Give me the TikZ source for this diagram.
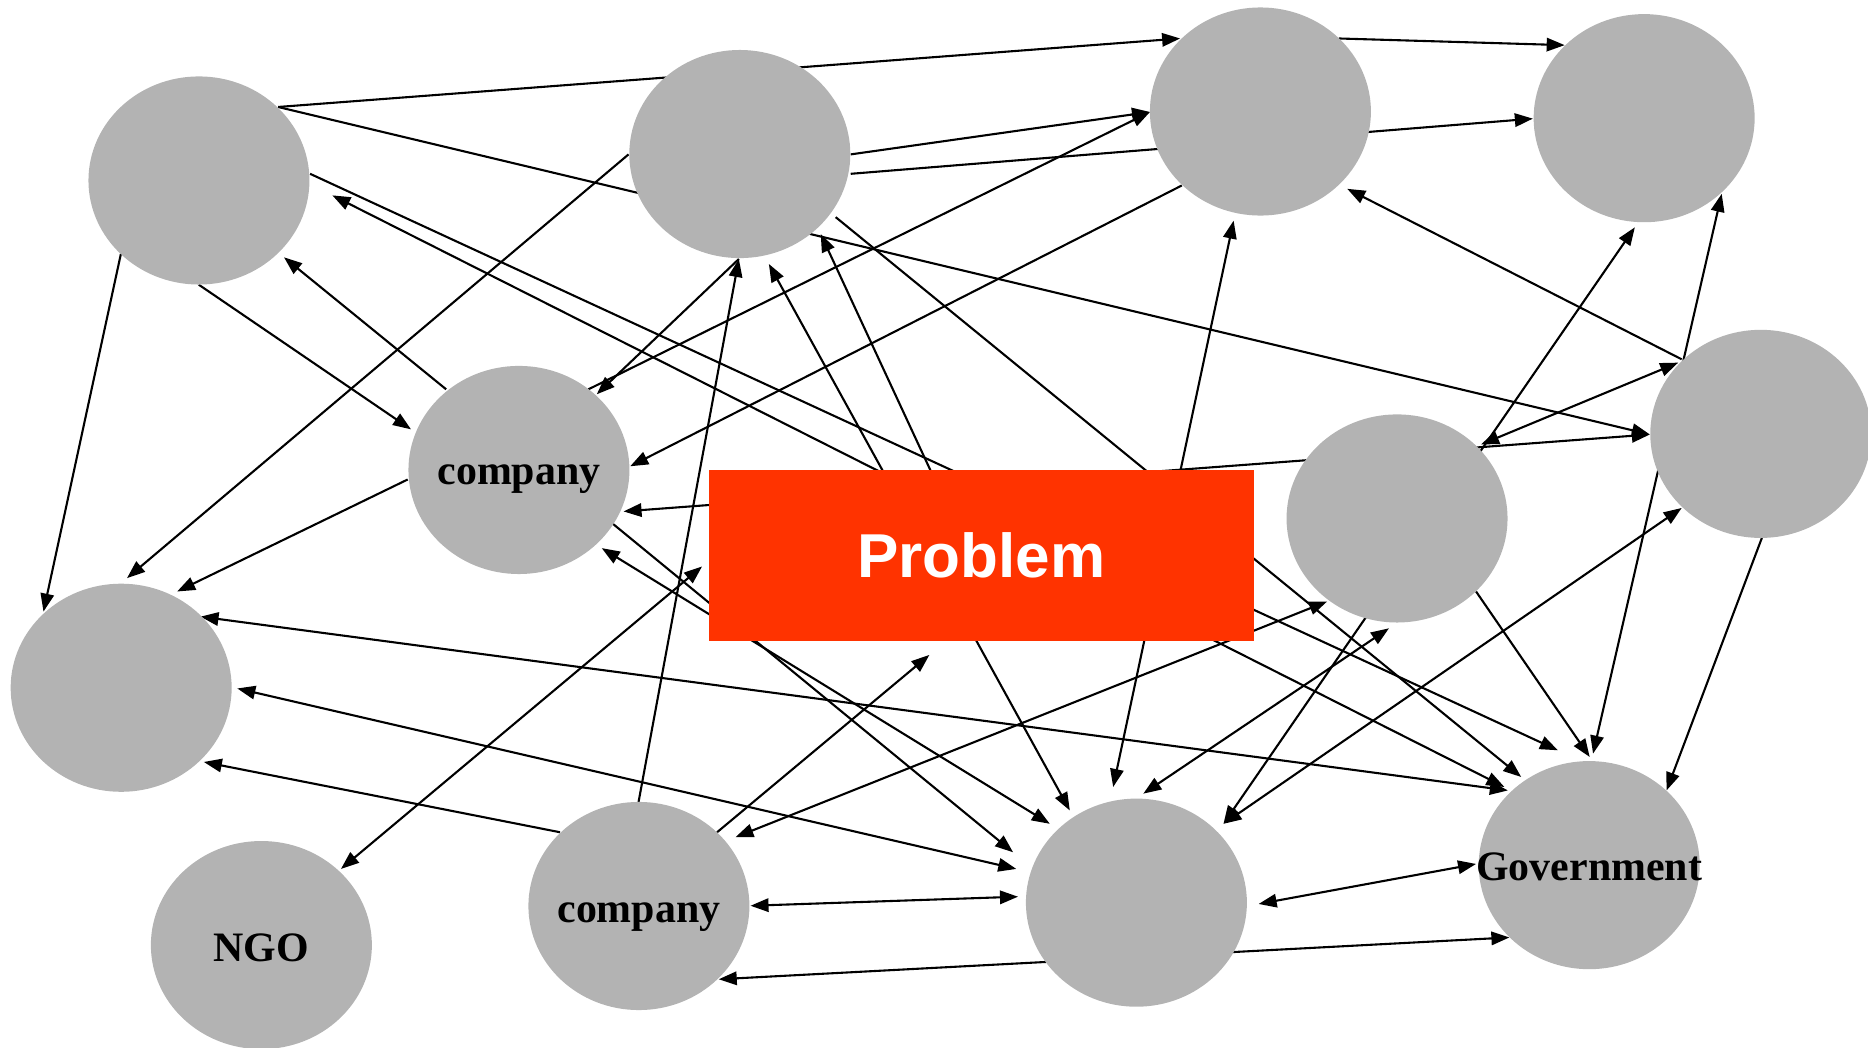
\documentclass[tikz,border=0pt]{standalone}
\usepackage{fontspec}
\setmainfont{Liberation Serif}
\newfontfamily\probfont{Liberation Sans}
\usetikzlibrary{shapes.geometric,arrows.meta,calc}
\definecolor{nodegrey}{RGB}{179,179,179}
\definecolor{probred}{RGB}{255,51,0}
\pgfdeclarelayer{links}
\pgfsetlayers{links,main}

\begin{document}
\begin{tikzpicture}[x=0.01cm,y=-0.01cm,
  actor/.style={ellipse,fill=nodegrey,minimum width=1.854cm,minimum height=1.746cm,inner sep=0pt},
  lbl/.style={anchor=base,inner sep=0pt,font=\fontsize{10pt}{12pt}\selectfont\bfseries},
  link/.style={line width=0.5pt,-{Triangle[length=4.3pt,width=3.2pt]}},
  both/.style={line width=0.5pt,{Triangle[length=4.3pt,width=3.2pt]}-{Triangle[length=4.3pt,width=3.2pt]}}]
\useasboundingbox (0,0) rectangle (1568,879);

% actors
\node[actor] (A) at (167,151.5) {};
\node[actor] (B) at (621,129.3) {};
\node[actor] (C) at (1058,93.6) {};
\node[actor] (D) at (1380.1,99.2) {};
\node[actor] (E) at (1478,364.2) {};
\node[actor] (F) at (1172.7,435.2) {};
\node[actor] (G) at (435.6,394.5) {};
\node[actor] (H) at (101.7,577.3) {};
\node[actor] (I) at (219.4,793.3) {};
\node[actor] (J) at (536.3,760.5) {};
\node[actor] (K) at (953.9,757.7) {};
\node[actor] (L) at (1334,726.2) {};

% labels
\node[lbl] (Gtxt) at ($(G)+(0,11.8)$) {company};
\node[lbl] (Jtxt) at ($(J)+(0,13.8)$) {company};
\node[lbl] (Itxt) at ($(I)+(0,13.8)$) {NGO};
\node[lbl] (Ltxt) at ($(L)+(0,12.5)$) {Government};

% central problem
\node[rectangle,fill=probred,minimum width=4.574cm,minimum height=1.435cm,inner sep=0pt,
      text=white,font=\probfont\bfseries\fontsize{14.8pt}{17pt}\selectfont] (P) at (823.6,466) {Problem};

\begin{pgfonlayer}{links}
\draw[link] ($(A)+(66.4,-61.7)$) -- ($(C)+(-67.4,-61.3)$);
\draw[link] ($(A)+(66.4,-61.7)$) -- ($(E)+(-93.1,0.5)$);
\draw[link] ($(A)+(93.3,-5.6)$) -- ($(L)+(-26.3,-96.4)$);
\draw[both] ($(A)+(112,12.5)$) -- ($(L)+(-71.2,-65.6)$);
\draw[link] ($(A)+(-0.1,87.5)$) -- ($(G)+(-90.6,-34.1)$);
\draw[link] ($(G)+(-61.1,-67.7)$) -- ($(A)+(71.4,64.5)$);
\draw[link] ($(A)+(-65.5,61.5)$) -- ($(H)+(-65.2,-63.9)$);
\draw[link] ($(B)+(-93.4,0.3)$) -- ($(H)+(4.9,-92)$);
\draw[link] ($(G)+(-93.4,8)$) -- ($(H)+(47,-80.8)$);
\draw[both] ($(H)+(66.6,-59.7)$) -- ($(L)+(-68.3,-62.7)$);
\draw[both] ($(H)+(97.5,0.6)$) -- ($(K)+(-100.8,-28.3)$);
\draw[link] ($(J)+(-66.2,-61.9)$) -- ($(H)+(69.4,62.3)$);
\draw[both] ($(P)+(-234.3,9.5)$) -- ($(I)+(66.8,-63.9)$);
\draw[link] ($(J)+(-0.3,-87.3)$) -- ($(B)+(-0.8,88.1)$);
\draw[both] ($(G)+(69.5,65.6)$) -- ($(K)+(-72.7,-66.2)$);
\draw[link] ($(G)+(78,44.5)$) -- ($(K)+(-103.5,-42.3)$);
\draw[link] ($(J)+(65.6,-61.9)$) -- ($(P)+(-43.5,83.8)$);
\draw[both] ($(J)+(81,-57.7)$) -- ($(F)+(-58.7,69.7)$);
\draw[both] ($(J)+(93.7,-0.2)$) -- ($(K)+(-99.4,-5)$);
\draw[both] ($(J)+(67,61.5)$) -- ($(L)+(-67,60.7)$);
\draw[both] ($(B)+(24.4,92.3)$) -- ($(K)+(-55.9,-77.4)$);
\draw[link] ($(P)+(-42.2,-70.4)$) -- ($(B)+(67.9,67.1)$);
\draw[both] ($(K)+(-19.5,-97.1)$) -- ($(C)+(-22.5,91.6)$);
\draw[both] ($(D)+(-7.8,91.6)$) -- ($(K)+(73.1,-66.2)$);
\draw[both] ($(K)+(5.8,-91.5)$) -- ($(F)+(-6.8,92.2)$);
\draw[both] ($(E)+(-66.4,62.2)$) -- ($(K)+(73.1,-66.2)$);
\draw[link] ($(B)+(80.5,53)$) -- ($(L)+(-57.1,-74)$);
\draw[link] ($(F)+(66.3,61.3)$) -- ($(L)+(0.4,-90.8)$);
\draw[both] ($(D)+(65.1,63.5)$) -- ($(L)+(3.2,-93.6)$);
\draw[link] ($(E)+(0.9,87.4)$) -- ($(L)+(64.9,-62.7)$);
\draw[both] ($(K)+(102.6,1.1)$) -- ($(L)+(-95,-1)$);
\draw[link] ($(C)+(65.8,-61.3)$) -- ($(D)+(-66.7,-61.3)$);
\draw[link] ($(B)+(93.1,16.6)$) -- ($(D)+(-93.4,0.4)$);
\draw[link] ($(B)+(93.1,0.3)$) -- ($(C)+(-92.7,0.4)$);
\draw[link] ($(G)+(58.3,-67.7)$) -- ($(C)+(-92.7,0.4)$);
\draw[link] ($(B)+(-0.8,88.1)$) -- ($(G)+(65.3,-63.5)$);
\draw[link] ($(C)+(-66,62.1)$) -- ($(G)+(93.4,-3.1)$);
\draw[link] ($(E)+(-66.4,-62.6)$) -- ($(C)+(72.9,64.9)$);
\draw[both] ($(F)+(70.5,-62.1)$) -- ($(E)+(-69.3,-59.8)$);
\draw[both] ($(G)+(87.8,34.8)$) -- ($(E)+(-93.1,0.5)$);
\end{pgfonlayer}
\end{tikzpicture}
\end{document}
